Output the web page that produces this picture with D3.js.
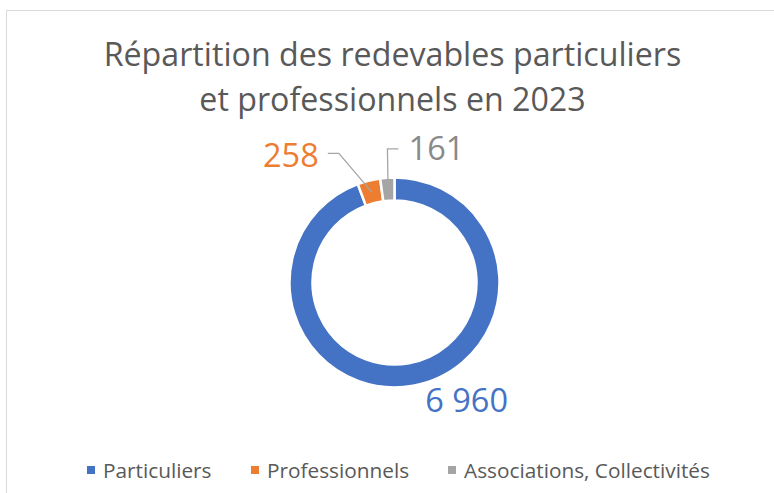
<!DOCTYPE html>
<html>
  <head>
    <meta charset="utf-8">
    <style>
      body { margin: 0; background: #fff; }
      svg text { font-family: "Open Sans", sans-serif; }
    </style>
  </head>
  <body>
    <div class='chart-container'></div>
    <script src="https://cdnjs.cloudflare.com/ajax/libs/d3/7.8.5/d3.min.js"></script>
    <script>
// data
var categories = ['Particuliers', 'Professionnels', 'Associations, Collectivités'];
var values = [6960, 258, 161];
var valueLabels = ['6 960', '258', '161'];
var colors = ['#4472c4', '#ed7d31', '#a5a5a5'];
var labelColors = ['#4472c4', '#ed7d31', '#8a8a8a'];
var titleLines = ['Répartition des redevables particuliers', 'et professionnels en 2023'];

var width = 774, height = 493;
var cx = 394.5, cy = 282.5;
var outerR = 105, innerR = 82;

// where each label sits: angle (deg, clockwise from top) and distance from centre
var labelPlace = [
  {angle: 148.5, r: 138, leader: false},
  {angle: 320.8, r: 164, leader: true},
  {angle: 17.3, r: 141, leader: true}
];

var svg = d3.select('.chart-container').append('svg')
    .attr('width', width)
    .attr('height', height);

svg.append('rect')
    .attr('x', 6.5).attr('y', 10.5)
    .attr('width', width + 20).attr('height', height + 20)
    .style('fill', '#fff')
    .style('stroke', '#d9d9d9')
    .style('stroke-width', 1);

svg.append('text')
    .attr('x', 392.5)
    .attr('y', 66)
    .attr('text-anchor', 'middle')
    .style('font-size', '32.2px')
    .style('fill', '#595959')
  .selectAll('tspan')
  .data(titleLines)
  .enter().append('tspan')
    .attr('x', 392.5)
    .attr('dy', (d, i) => i === 0 ? 0 : 45)
    .text(d => d);

var data = categories.map((c, i) => ({name: c, value: values[i], label: valueLabels[i], color: colors[i], labelColor: labelColors[i], place: labelPlace[i]}));

var pie = d3.pie().sort(null).value(d => d.value);
var arc = d3.arc().innerRadius(innerR).outerRadius(outerR);
var arcs = pie(data);

var g = svg.append('g').attr('transform', 'translate(' + cx + ',' + cy + ')');

g.selectAll('path')
  .data(arcs)
  .enter().append('path')
    .attr('d', arc)
    .style('fill', d => d.data.color)
    .style('stroke', '#fff')
    .style('stroke-width', 2.5);

function polar(angle, r) {
  var a = angle * Math.PI / 180;
  return [Math.sin(a) * r, -Math.cos(a) * r];
}

var labels = g.selectAll('.lbl')
  .data(arcs)
  .enter().append('g')
    .attr('class', 'lbl');

labels.append('text')
    .attr('x', d => polar(d.data.place.angle, d.data.place.r)[0])
    .attr('y', d => polar(d.data.place.angle, d.data.place.r)[1])
    .attr('dy', '0.36em')
    .attr('text-anchor', 'middle')
    .style('font-size', '32.5px')
    .style('fill', d => d.data.labelColor)
    .text(d => d.data.label);

// leader lines from label to slice
labels.filter(d => d.data.place.leader)
  .append('polyline')
    .attr('points', d => {
      var mid = (d.startAngle + d.endAngle) / 2 * 180 / Math.PI;
      var end = polar(mid, (innerR + outerR) / 2);
      var lp = polar(d.data.place.angle, d.data.place.r);
      var leftSide = lp[0] < end[0];
      var sx = leftSide ? lp[0] + 37 : lp[0] - 38;
      var sy = lp[1] - (leftSide ? 2 : -1);
      var bx = leftSide ? sx + 11 : sx - 11;
      return [[sx, sy], [bx, sy], end].map(p => p.join(',')).join(' ');
    })
    .style('fill', 'none')
    .style('stroke', '#a6a6a6')
    .style('stroke-width', 1.3);

// legend
var legendX = [87, 251, 448];
var legend = svg.append('g').selectAll('g')
  .data(data)
  .enter().append('g')
    .attr('transform', (d, i) => 'translate(' + legendX[i] + ',466)');

legend.append('rect')
    .attr('width', 8).attr('height', 8)
    .style('fill', d => d.color);

legend.append('text')
    .attr('x', 16)
    .attr('y', 4)
    .attr('dy', '0.36em')
    .style('font-size', '20.8px')
    .style('fill', '#595959')
    .text(d => d.name);
    </script>
  </body>
</html>
